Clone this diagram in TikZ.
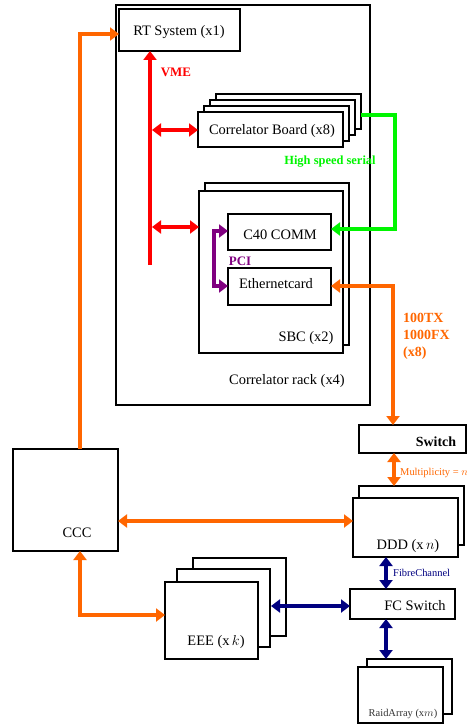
\documentclass[tikz,border=0pt]{standalone}
\usepackage{fontspec}
\setmainfont{Liberation Serif}
\usetikzlibrary{arrows.meta,fit}
\definecolor{org}{RGB}{255,102,0}
\definecolor{grn}{RGB}{0,245,0}
\definecolor{rd}{RGB}{255,0,0}
\definecolor{prp}{RGB}{128,0,128}
\definecolor{nvy}{RGB}{0,0,128}
\begin{document}
\begin{tikzpicture}[x=1bp,y=-1bp,
  box/.style={draw,line width=2bp,fill=white,inner sep=0pt,outer sep=0pt},
  lbl/.style={inner sep=0pt,font=\fontsize{14.5}{17}\selectfont},
  tip/.tip={Triangle[length=9bp,width=13bp]},
  one/.style={line width=4bp,-tip},
  two/.style={line width=4bp,tip-tip},
  blab/.style={inner sep=0pt,font=\bfseries\fontsize{14}{17}\selectfont,align=left}
]
\useasboundingbox (0,0) rectangle (467,726);
% correlator rack
\node[box,fit={(116,5)(370,405)}] (rack) {};
\node[lbl] (racklbl) at (287,381) {Correlator rack (x4)};
% RT system
\node[box,fit={(119,9)(240,51)}] (rt) {};
\node[lbl] (rtlbl) at (179,32) {RT System (x1)};
% correlator board stack
\node[box,fit={(216,94)(361,129)}] (cb4) {};
\node[box,fit={(210,100)(355,135)}] (cb3) {};
\node[box,fit={(204,106)(349,141)}] (cb2) {};
\node[box,fit={(198,112)(343,147)}] (cb) {};
\node[lbl] (cblbl) at (272,131) {Correlator Board (x8)};
% SBC stack
\node[box,fit={(205,183)(349,345)}] (sbc2) {};
\node[box,fit={(199,191)(343,353)}] (sbc) {};
\node[lbl] (sbclbl) at (306,338) {SBC (x2)};
\node[box,fit={(228,214)(331,250)}] (c40) {};
\node[lbl] (c40lbl) at (280,235) {C40 COMM};
\node[box,fit={(228,268)(331,305)}] (eth) {};
\node[lbl] (ethlbl) at (276,284) {Ethernetcard};
% Switch
\node[box,fit={(359,425)(466,453)}] (sw) {};
\node[blab] (swlbl) at (436,442) {Switch};
% DDD stack
\node[box,fit={(359,486)(464,545)}] (ddd2) {};
\node[box,fit={(353,498)(458,557)}] (ddd) {};
\node[lbl] (dddlbl) at (408,546) {DDD (x\,$n$)};
% CCC
\node[box,fit={(13,449)(118,551)}] (ccc) {};
\node[lbl] (ccclbl) at (77,533) {CCC};
% EEE stack
\node[box,fit={(193,558)(286,636)}] (eee3) {};
\node[box,fit={(177,569)(270,647)}] (eee2) {};
\node[box,fit={(165,582)(258,659)}] (eee) {};
\node[lbl] (eeelbl) at (216,642) {EEE (x\,$k$)};
% FC switch
\node[box,fit={(350,589)(455,619)}] (fcs) {};
\node[lbl] (fcslbl) at (415,606) {FC Switch};
% RaidArray stack
\node[box,fit={(367,659)(452,714)}] (raid2) {};
\node[box,fit={(358,667)(443,723)}] (raid) {};
\node[inner sep=0pt,font=\fontsize{10.5}{12}\selectfont,text=black!80] (raidlbl) at (403,714) {RaidArray (x$m$)};

% VME bus
\coordinate (vmebot) at (150,265);
\draw[rd,one] (vmebot) -- (vmebot |- rt.south);
\node[blab,text=rd,font=\bfseries\fontsize{13}{15}\selectfont] (vme) at (176,72) {VME};
\coordinate (vme1) at (152,130);
\coordinate (vme2) at (152,227);
\draw[rd,two] (vme1) -- (vme1 -| cb.west);
\draw[rd,two] (vme2) -- (vme2 -| sbc.west);
% PCI
\coordinate (pcix) at (214,0);
\draw[prp,line width=4bp,tip-tip] (c40.west |- 0,231) -| (pcix |- 0,258) |- (eth.west |- 0,286);
\node[inner sep=0pt,font=\bfseries\fontsize{13}{15}\selectfont,text=prp] (pci) at (240,261) {PCI};
% green serial
\coordinate (gx) at (395,0);
\draw[grn,line width=4bp,-tip] (cb4.east |- 0,115) -| (gx |- 0,229) -- (c40.east |- 0,229);
\node[inner sep=0pt,font=\bfseries\fontsize{12.5}{14}\selectfont,text=grn] (hss) at (330,162) {High speed serial};
% ethernet to switch
\coordinate (ox) at (393,286);
\draw[org,line width=4bp,tip-tip] (eth.east |- ox) -- (ox) -- (ox |- sw.north);
\node[blab,text=org,anchor=north west] (tx) at (403,313) {100TX\\[0pt]1000FX\\[0pt](x8)};
% switch to DDD
\coordinate (mx) at (394,0);
\draw[org,two] (mx |- sw.south) -- (mx |- ddd2.north);
\node[inner sep=0pt,font=\fontsize{10.5}{12}\selectfont,text=org,anchor=west] (mult) at (400,473) {Multiplicity = $n$};
% CCC to RT
\coordinate (cx) at (80,0);
\draw[org,one] (cx |- ccc.north) |- (rt.west |- 0,34);
% CCC to DDD
\draw[org,two] (ccc.east |- 0,521) -- (ddd.west |- 0,521);
% CCC to EEE
\draw[org,two] (cx |- ccc.south) |- (eee.west |- 0,615);
% EEE to FC
\draw[nvy,line width=4bp,tip-tip] (271,606) -- (fcs.west |- 0,606);
% DDD to FC
\coordinate (fx) at (386,0);
\draw[nvy,two] (fx |- ddd.south) -- (fx |- fcs.north);
\node[inner sep=0pt,font=\fontsize{10.5}{12}\selectfont,text=nvy,anchor=west] (fc) at (393,573) {FibreChannel};
% FC to Raid
\draw[nvy,two] (fx |- fcs.south) -- (fx |- raid2.north);
\end{tikzpicture}
\end{document}
